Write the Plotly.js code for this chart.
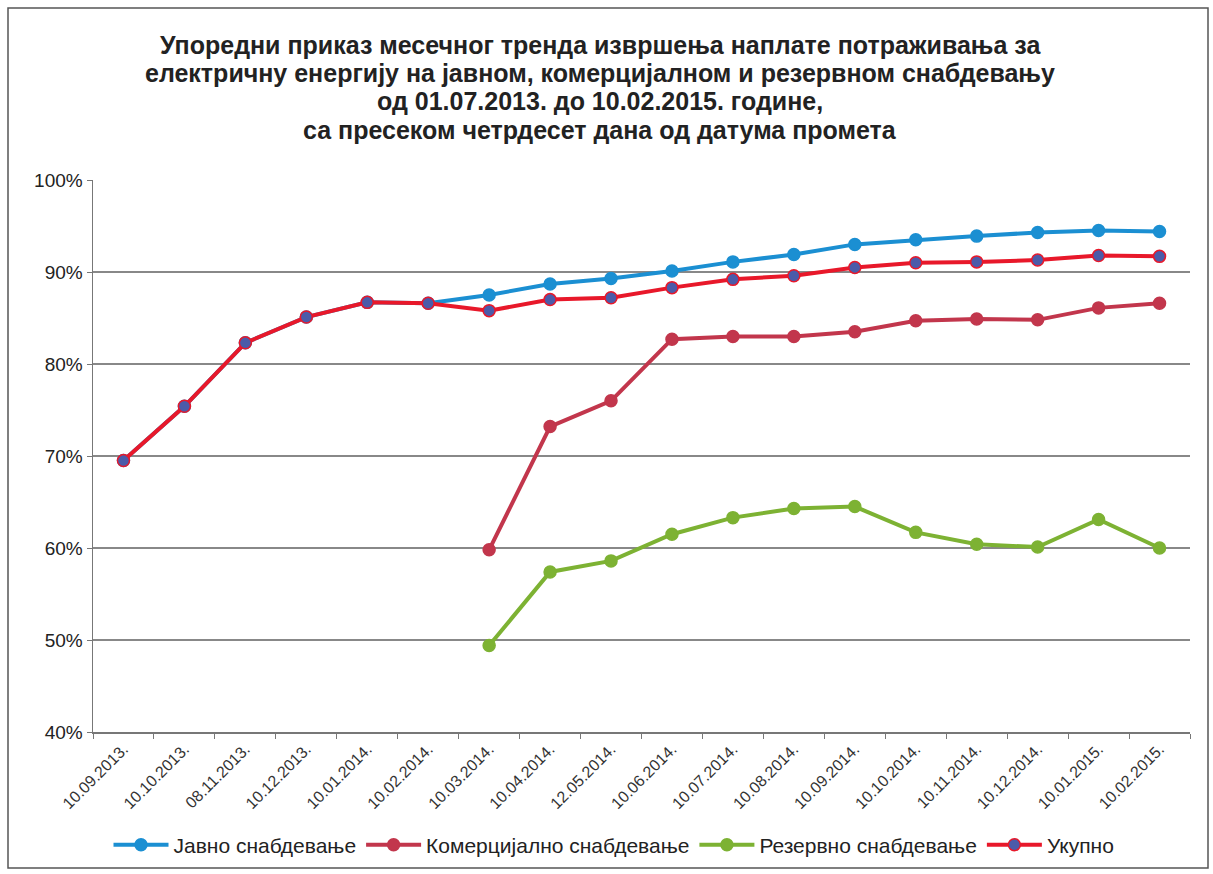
<!DOCTYPE html>
<html>
<head>
<meta charset="utf-8">
<script src="https://cdn.plot.ly/plotly-3.0.1.min.js"></script>
<style>
  html, body { margin: 0; padding: 0; background: #fff; }
  #chart { width: 1213px; height: 874px; }
</style>
</head>
<body>
<div id="chart"></div>
<script>
// датуми пресека
const datumi = ["10.09.2013.", "10.10.2013.", "08.11.2013.", "10.12.2013.", "10.01.2014.", "10.02.2014.",
  "10.03.2014.", "10.04.2014.", "12.05.2014.", "10.06.2014.", "10.07.2014.", "10.08.2014.",
  "10.09.2014.", "10.10.2014.", "10.11.2014.", "10.12.2014.", "10.01.2015.", "10.02.2015."];

const javno = [69.5, 75.4, 82.3, 85.1, 86.7, 86.6, 87.5, 88.7, 89.3, 90.1, 91.1, 91.9,
  93.0, 93.5, 93.9, 94.3, 94.5, 94.4];
const komercijalno = [null, null, null, null, null, null, 59.8, 73.2, 76.0, 82.7, 83.0, 83.0,
  83.5, 84.7, 84.9, 84.8, 86.1, 86.6];
const rezervno = [null, null, null, null, null, null, 49.4, 57.4, 58.6, 61.5, 63.3, 64.3,
  64.5, 61.7, 60.4, 60.1, 63.1, 60.0];
const ukupno = [69.5, 75.4, 82.3, 85.1, 86.7, 86.6, 85.8, 87.0, 87.2, 88.3, 89.2, 89.6,
  90.5, 91.0, 91.1, 91.3, 91.8, 91.7];

const naslovRedovi = [
  "Упоредни приказ месечног тренда извршења наплате потраживања за",
  "електричну енергију на јавном, комерцијалном и резервном снабдевању",
  "од 01.07.2013. до 10.02.2015. године,",
  "са пресеком четрдесет дана од датума промета"
];

function serija(name, y, lineColor, markerColor) {
  return {
    x: datumi, y: y, name: name, type: 'scatter', mode: 'lines+markers',
    line: { color: lineColor, width: 4 },
    marker: { color: markerColor, size: 12, line: { color: lineColor, width: 1.5 } },
    connectgaps: false
  };
}

const traces = [
  serija("Јавно снабдевање", javno, "#1b8fd2", "#1b8fd2"),
  serija("Комерцијално снабдевање", komercijalno, "#c2364c", "#c2364c"),
  serija("Резервно снабдевање", rezervno, "#7db233", "#7db233"),
  serija("Укупно", ukupno, "#e8182a", "#4b5ba9")
];

// наслов по редовима, да би размак између редова био као у оригиналу
const naslovY = [45, 73, 101, 130];
const annotations = naslovRedovi.map((t, i) => ({
  text: t, showarrow: false, xref: "paper", yref: "paper",
  x: (600 - 93) / 1097, y: 1 + (180 - naslovY[i]) / 552,
  xanchor: "center", yanchor: "middle",
  font: { size: 25, family: "Liberation Sans, Arial, sans-serif", weight: "bold", color: "#222" }
}));

const layout = {
  width: 1213, height: 874,
  margin: { l: 93, r: 23, t: 180, b: 142 },
  paper_bgcolor: "#fff", plot_bgcolor: "#fff",
  font: { family: "Liberation Sans, Arial, sans-serif", color: "#222" },
  annotations: annotations,
  xaxis: {
    type: "category", tickangle: -45, tickson: "boundaries",
    ticks: "outside", ticklen: 5, tickcolor: "#777",
    showline: true, linecolor: "#777", linewidth: 1.5,
    showgrid: false, tickfont: { size: 16, color: "#333" },
    range: [-0.5, 17.5], automargin: false
  },
  yaxis: {
    range: [40, 100], dtick: 10, ticksuffix: "%",
    ticks: "outside", ticklen: 5, tickcolor: "#777",
    showline: true, linecolor: "#777", linewidth: 1.5,
    gridcolor: "#888", gridwidth: 1.2, zeroline: false,
    tickfont: { size: 19, color: "#222" }, automargin: false
  },
  legend: {
    orientation: "h", xref: "container", x: 614 / 1213, xanchor: "center",
    yref: "container", y: 1 - 845 / 874, yanchor: "middle",
    bgcolor: "rgba(0,0,0,0)",
    font: { size: 21, color: "#222" }, traceorder: "normal", itemwidth: 55
  },
  shapes: [{
    type: "rect", xref: "paper", yref: "paper",
    x0: (8 - 93) / 1097, x1: (1208 - 93) / 1097,
    y0: -(868 - 732) / 552, y1: 1 + (180 - 8) / 552,
    line: { color: "#555", width: 1.5 }
  }]
};

Plotly.newPlot("chart", traces, layout, { displayModeBar: false, staticPlot: true });
</script>
</body>
</html>
